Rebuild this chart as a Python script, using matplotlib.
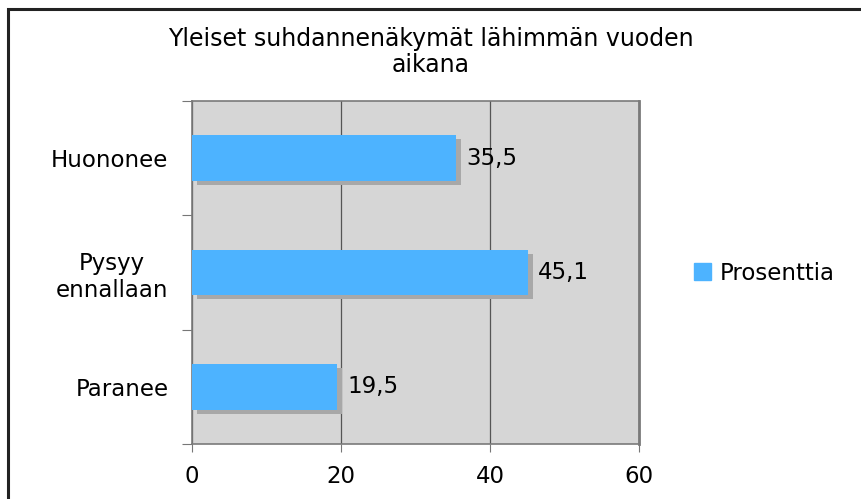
import matplotlib
matplotlib.use("Agg")
import matplotlib.pyplot as plt
import matplotlib.transforms as mtransforms
from matplotlib.patches import Rectangle, Patch

categories = ["Paranee", "Pysyy\nennallaan", "Huononee"]
values = [19.5, 45.1, 35.5]
labels = ["19,5", "45,1", "35,5"]
series_name = "Prosenttia"
title = "Yleiset suhdannenäkymät lähimmän vuoden\naikana"

bar_color = "#4db3ff"
shadow_color = "#a8a8a8"
fs = 16.5

fig = plt.figure(figsize=(8.62, 4.99), dpi=100)
ax = fig.add_axes([192 / 862, 1 - 444 / 499, 447 / 862, 343 / 499])

# outer frame of the chart
fig.patches.append(Rectangle((8 / 862, -0.05), 1.0, 1 - 9 / 499 + 0.05,
                             transform=fig.transFigure, fill=False,
                             edgecolor="#222222", linewidth=2.2, zorder=10))

pos = list(range(len(categories)))
shadow = ax.transData + mtransforms.ScaledTranslation(5 / 100, -4 / 100, fig.dpi_scale_trans)
ax.barh(pos, values, height=0.4, color=shadow_color, transform=shadow, zorder=2)
ax.barh(pos, values, height=0.4, color=bar_color, zorder=3)

for p, v, t in zip(pos, values, labels):
    ax.annotate(t, (v, p), xytext=(7, 0), textcoords="offset points",
                va="center", ha="left", fontsize=fs, zorder=4)

ax.set_xlim(0, 60)
ax.set_ylim(-0.5, 2.5)
ax.set_xticks([0, 20, 40, 60])
ax.set_yticks([-0.5, 0.5, 1.5, 2.5])
ax.set_yticklabels([])
ax.set_yticks(pos, minor=True)
ax.set_yticklabels(categories, minor=True, fontsize=fs, multialignment="center")
ax.tick_params(axis="y", which="minor", length=0, pad=17)
ax.tick_params(axis="y", which="major", length=7, color="#777777")
ax.tick_params(axis="x", length=6, color="#777777", labelsize=fs, pad=9)

ax.set_facecolor("#d6d6d6")
ax.grid(axis="x", color="#555555", linewidth=0.9, zorder=1)
ax.set_axisbelow(True)
for s in ax.spines.values():
    s.set_color("#7a7a7a")
    s.set_linewidth(1.2)
ax.spines["right"].set_linewidth(2)

fig.text(0.5, 1 - 52 / 499, title, ha="center", va="center",
         fontsize=17, linespacing=1.1)

fig.legend(handles=[Patch(color=bar_color, label=series_name)],
           loc="center left", bbox_to_anchor=(673 / 862, 1 - 273 / 499),
           frameon=False, fontsize=fs, handlelength=0.75, handleheight=0.75,
           handletextpad=0.4)

fig.savefig("out.png", dpi=100)
